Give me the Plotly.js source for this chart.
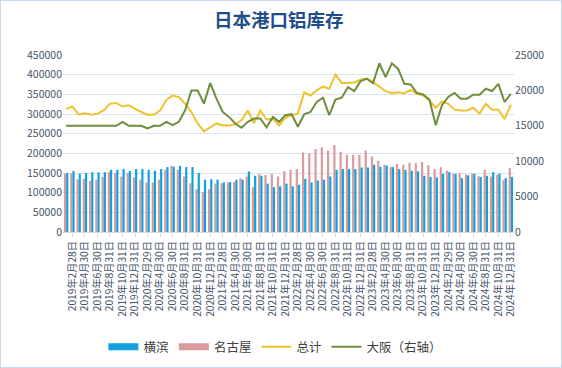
<!DOCTYPE html>
<html>
<head>
<meta charset="utf-8">
<script src="https://cdn.plot.ly/plotly-3.0.1.min.js"></script>
<style>
  html, body { margin: 0; padding: 0; background: #fff; }
  #wrap { position: relative; width: 562px; height: 368px; }
  #chart { width: 562px; height: 368px; }
  #frame { position: absolute; left: 0; top: 0; width: 562px; height: 368px; box-sizing: border-box; border: 1px solid #C9D8EC; pointer-events: none; }
</style>
</head>
<body>
<div id="wrap"><div id="chart"></div><div id="frame"></div></div>
<script>
const categories = [
  "2019年1月31日","2019年2月28日","2019年3月31日","2019年4月30日","2019年5月31日","2019年6月30日","2019年7月31日","2019年8月31日","2019年9月30日","2019年10月31日","2019年11月30日","2019年12月31日",
  "2020年1月31日","2020年2月29日","2020年3月31日","2020年4月30日","2020年5月31日","2020年6月30日","2020年7月31日","2020年8月31日","2020年9月30日","2020年10月31日","2020年11月30日","2020年12月31日",
  "2021年1月31日","2021年2月28日","2021年3月31日","2021年4月30日","2021年5月31日","2021年6月30日","2021年7月31日","2021年8月31日","2021年9月30日","2021年10月31日","2021年11月30日","2021年12月31日",
  "2022年1月31日","2022年2月28日","2022年3月31日","2022年4月30日","2022年5月31日","2022年6月30日","2022年7月31日","2022年8月31日","2022年9月30日","2022年10月31日","2022年11月30日","2022年12月31日",
  "2023年1月31日","2023年2月28日","2023年3月31日","2023年4月30日","2023年5月31日","2023年6月30日","2023年7月31日","2023年8月31日","2023年9月30日","2023年10月31日","2023年11月30日","2023年12月31日",
  "2024年1月31日","2024年2月29日","2024年3月31日","2024年4月30日","2024年5月31日","2024年6月30日","2024年7月31日","2024年8月31日","2024年9月30日","2024年10月31日","2024年11月30日","2024年12月31日"
];

const yokohama = [
  150000,155000,148000,150000,152000,152000,152000,158000,158000,160000,155000,160000,
  160000,158000,156000,160000,165000,166000,168000,165000,165000,150000,133000,134000,
  133000,126000,127000,133000,133000,154000,143000,143000,123000,114000,116000,123000,
  116000,120000,135000,126000,131000,133000,141000,158000,160000,160000,160000,164000,
  164000,171000,166000,169000,165000,160000,158000,156000,154000,143000,140000,139000,
  148000,152000,148000,137000,144000,148000,140000,143000,152000,148000,137000,140000
];

const nagoya = [
  148000,149000,134000,135000,130000,133000,140000,153000,150000,141000,150000,139000,
  133000,126000,126000,133000,158000,168000,158000,141000,124000,109000,102000,109000,
  123000,124000,126000,127000,137000,141000,114000,147000,145000,147000,141000,155000,
  158000,160000,202000,200000,211000,215000,207000,221000,204000,196000,196000,196000,
  207000,192000,181000,171000,165000,173000,171000,176000,175000,178000,170000,160000,
  165000,156000,148000,150000,146000,148000,142000,158000,141000,145000,132000,163000
];

const total = [
  313000,319000,299000,302000,298000,301000,309000,326000,328000,319000,322000,313000,
  305000,298000,298000,309000,336000,347000,343000,326000,305000,276000,256000,266000,
  276000,271000,271000,274000,284000,309000,277000,309000,286000,288000,271000,290000,
  297000,301000,355000,347000,360000,370000,364000,400000,379000,379000,380000,387000,
  391000,381000,370000,358000,353000,355000,353000,361000,351000,347000,334000,316000,
  332000,326000,311000,309000,309000,316000,301000,326000,311000,311000,287000,324000
];

const osaka = [
  15000,15000,15000,15000,15000,15000,15000,15000,15000,15560,15000,15000,
  15000,14630,15000,15000,15560,15100,15560,17200,20000,20000,18130,21030,
  18830,16960,16260,15330,14720,15560,16030,16030,14770,16260,15560,16500,
  16640,14860,16640,16960,18360,18970,16500,18690,18970,20470,19910,21310,
  21640,21030,23830,21870,23830,23040,20930,20840,19630,19440,18690,15090,
  17900,19070,19630,18830,18830,19390,19390,20230,19910,20930,18360,19530
];

const tickLabels = categories.filter((c, i) => i % 2 === 1);

const axisColor = "#44546A";
const fontFam = "'Noto Sans CJK SC', 'Noto Sans', sans-serif";
const blue = "#12A1DE";
const pink = "#D99A9B";

const traces = [
  { type: "bar", name: "名古屋", x: categories, y: nagoya, marker: { color: pink }, showlegend: false, hoverinfo: "skip" },
  { type: "bar", name: "横滨", x: categories, y: yokohama, marker: { color: blue }, showlegend: false, hoverinfo: "skip" },
  { type: "scatter", mode: "lines", name: "总计", x: categories, y: total, line: { color: "#F0C232", width: 2 }, legendrank: 3, hoverinfo: "skip" },
  { type: "scatter", mode: "lines", name: "大阪（右轴）", x: categories, y: osaka, yaxis: "y2", line: { color: "#6E8E3B", width: 2 }, legendrank: 4, hoverinfo: "skip" },
  // legend keys for the bar series, drawn as wide blocks like the reference
  { type: "scatter", mode: "lines", name: "横滨", x: [categories[0]], y: [null], line: { color: blue, width: 7 }, legendrank: 1, hoverinfo: "skip" },
  { type: "scatter", mode: "lines", name: "名古屋", x: [categories[0]], y: [null], line: { color: pink, width: 7 }, legendrank: 2, hoverinfo: "skip" }
];

const layout = {
  width: 562, height: 368, autosize: false,
  margin: { l: 63, r: 48, t: 55, b: 136 },
  paper_bgcolor: "#ffffff", plot_bgcolor: "#ffffff",
  font: { family: fontFam, color: axisColor },
  title: { text: "日本港口铝库存", x: 0.496, xref: "container", y: 0.945, yref: "container", yanchor: "middle",
           font: { family: fontFam, size: 18.5, color: "#1F4E8C", weight: 700 } },
  barmode: "group", bargap: 0.3, bargroupgap: 0,
  showlegend: true,
  legend: { orientation: "h", xref: "container", yref: "container", x: 0.49, xanchor: "center", y: 0.057, yanchor: "middle",
            font: { size: 12.5, color: "#404040" }, traceorder: "normal", itemwidth: 30, tracegroupgap: 0 },
  xaxis: { type: "category", tickvals: tickLabels, ticktext: tickLabels, tickangle: -90,
           tickfont: { size: 10.2, color: axisColor }, showgrid: false, showline: true, linecolor: "#D9D9D9",
           ticks: "outside", ticklen: 4, tickcolor: "#D9D9D9", zeroline: false, fixedrange: true },
  yaxis: { range: [0, 450000], dtick: 50000, tickformat: "d", gridcolor: "#D9E2EF", zeroline: false,
           tickfont: { size: 10.5, color: axisColor }, showline: false, fixedrange: true },
  yaxis2: { overlaying: "y", side: "right", range: [0, 25000], dtick: 5000, tickformat: "d", showgrid: false,
            zeroline: false, tickfont: { size: 10.5, color: axisColor }, showline: false, fixedrange: true }
};

Plotly.newPlot("chart", traces, layout, { displayModeBar: false, staticPlot: true });
</script>
</body>
</html>
